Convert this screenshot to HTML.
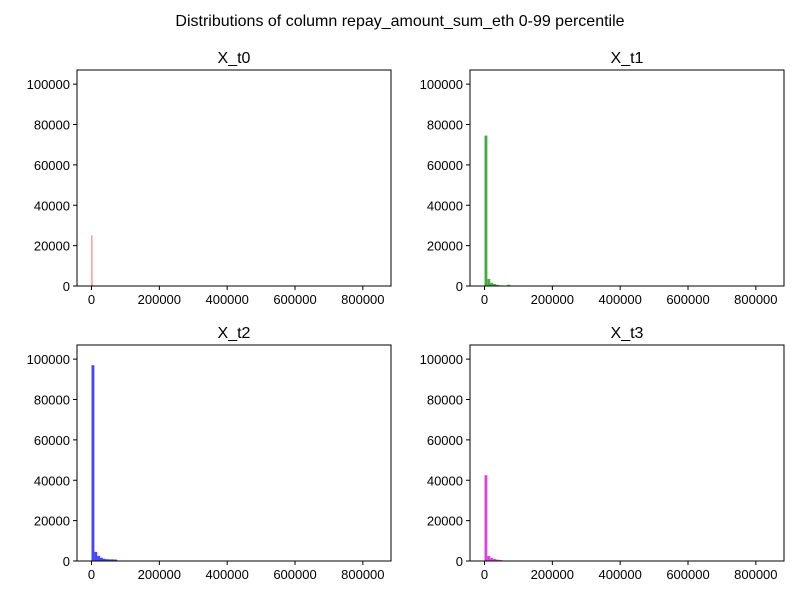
<!DOCTYPE html>
<html><head><meta charset="utf-8"><style>
body{margin:0;background:#fff;font-family:"Liberation Sans",sans-serif}
</style></head><body>
<svg id="fig" width="800" height="600" xmlns="http://www.w3.org/2000/svg">
<rect width="800" height="600" fill="#fff"/>
<text x="400" y="26" text-anchor="middle" font-size="16">Distributions of column repay_amount_sum_eth 0-99 percentile</text>
</svg>
<script>
const titles=["X_t0","X_t1","X_t2","X_t3"];
const colors=["#ff4444","#44aa44","#4444ff","#dd44dd"];
const binWidths=[1200,8416,8416,8416];
const countsT0=[25000,800];
const countsT1=[74500,3500,1600,1000,600,300,200,100,600];
const countsT2=[97000,4500,2500,1600,1100,900,800,800,700];
const countsT3=[42500,2500,1500,1000,700,500,300,200];
const series=[countsT0,countsT1,countsT2,countsT3];
const xTicks=[0,200000,400000,600000,800000];
const yTicks=[0,20000,40000,60000,80000,100000];
const xMin=-42800,xMax=883000,yMax=107000;
const boxes=[[77,70],[470,70],[77,345],[470,345]];
const W=314,H=216;
const svg=document.getElementById('fig');
const NS="http://www.w3.org/2000/svg";
function mk(t,a,p){const e=document.createElementNS(NS,t);for(const k in a)e.setAttribute(k,a[k]);(p||svg).appendChild(e);return e;}
series.forEach((cnt,i)=>{
 const [x0,y0]=boxes[i];
 const g=mk('g',{});
 
 
 const sx=v=>x0+(v-xMin)/(xMax-xMin)*W;
 const sy=v=>y0+H-v/yMax*H;
 cnt.forEach((c,j)=>{
  const a=sx(j*binWidths[i]),b=sx((j+1)*binWidths[i]);
  const r=mk('rect',{x:a,y:sy(c),width:Math.max(b-a,0.8),height:sy(0)-sy(c),fill:colors[i]},g);
  
  
 });
 const f=mk('rect',{x:x0,y:y0,width:W,height:H,fill:'none',stroke:'#000','stroke-width':1},g);
 
 
 const t=mk('text',{x:x0+W/2,y:y0-7,'text-anchor':'middle','font-size':16},g);t.textContent=titles[i];
 
 
 xTicks.forEach(v=>{const x=sx(v);mk('line',{x1:x,x2:x,y1:y0+H,y2:y0+H+4,stroke:'#000'},g);
  const l=mk('text',{x:x,y:y0+H+18,'text-anchor':'middle','font-size':13},g);l.textContent=v;
  
  });
 yTicks.forEach(v=>{const y=sy(v);mk('line',{x1:x0-4,x2:x0,y1:y,y2:y,stroke:'#000'},g);
  const l=mk('text',{x:x0-7,y:y+5,'text-anchor':'end','font-size':13},g);l.textContent=v;
  
  });
});
</script>
</body></html>
